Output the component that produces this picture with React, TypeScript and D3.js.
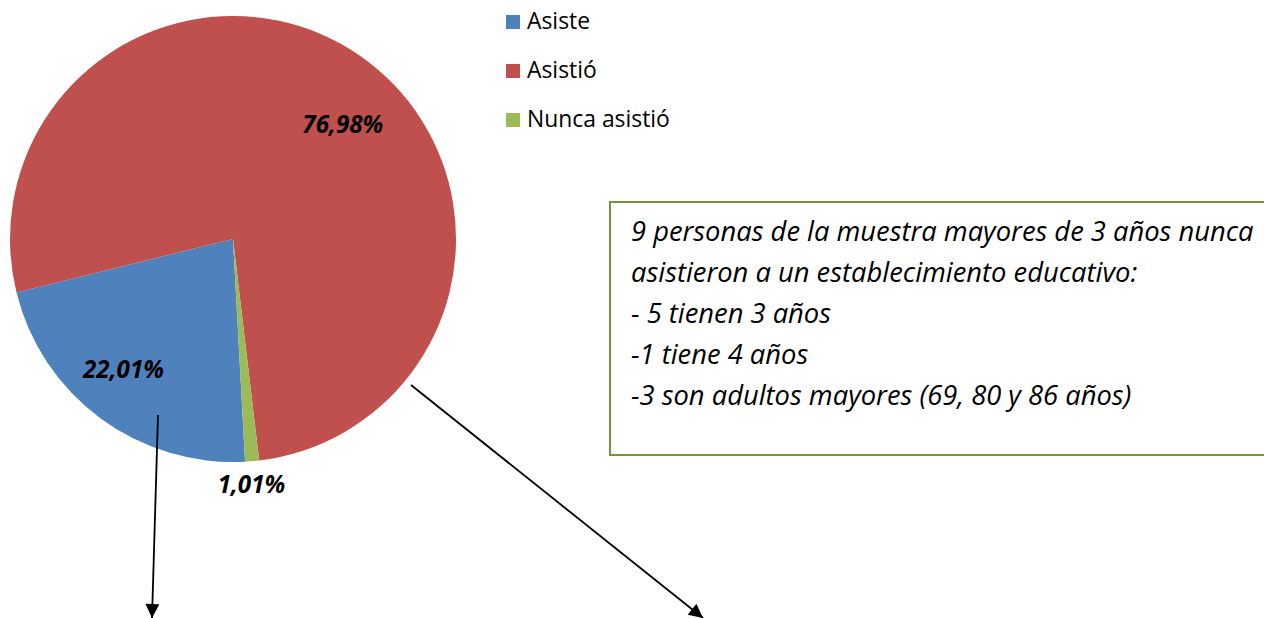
import React, { useRef, useEffect } from 'react';
import * as d3 from 'd3';

const categories = ['Asiste', 'Asistió', 'Nunca asistió'];
const values = [22.01, 76.98, 1.01];
const colors = ['#4F81BD', '#C0504D', '#9BBB59'];
const valueLabels = ['22,01%', '76,98%', '1,01%'];
// where Excel put the data labels (angle in degrees, distance from centre)
const labelPolar = [
  [220.1, 170],
  [43.7, 159],
  [175.7, 246],
];
const noteLines = [
  '9 personas de la muestra mayores de 3 años nunca',
  'asistieron a un establecimiento educativo:',
  '- 5 tienen 3 años',
  '-1 tiene 4 años',
  '-3 son adultos mayores (69, 80 y 86 años)',
];

const W = 1264;
const H = 618;
const FONT = '"Open Sans", Lato, sans-serif';

const rad = (deg: number) => (deg * Math.PI) / 180;

// scale the font of a selection so that its reference text gets the wanted width
const fitFont = (sel: any, refNode: SVGTextElement, target: number, base: number) => {
  const w = refNode.getComputedTextLength();
  if (w > 0) sel.attr('font-size', (base * target) / w);
};

const App = () => {
  const ref = useRef<SVGSVGElement>(null);

  useEffect(() => {
    const svg = d3.select(ref.current);
    svg.selectAll('*').remove();

    const cx = 233, cy = 239, r = 223;
    const start = 176.9;

    const pie = d3.pie<number>()
      .sort(null)
      .startAngle(rad(start))
      .endAngle(rad(start + 360));
    const arc = d3.arc<d3.PieArcDatum<number>>().innerRadius(0).outerRadius(r);

    const g = svg.append('g').attr('transform', `translate(${cx},${cy})`);
    g.selectAll('path')
      .data(pie(values))
      .enter().append('path')
      .attr('d', arc)
      .attr('fill', (d, i) => colors[i])
      .attr('stroke', 'none');

    const lbls = g.selectAll('text.lbl')
      .data(valueLabels)
      .enter().append('text')
      .attr('class', 'lbl')
      .attr('x', (d, i) => labelPolar[i][1] * Math.sin(rad(labelPolar[i][0])))
      .attr('y', (d, i) => -labelPolar[i][1] * Math.cos(rad(labelPolar[i][0])))
      .attr('dy', '0.36em')
      .attr('text-anchor', 'middle')
      .attr('font-family', FONT)
      .attr('font-size', 20)
      .attr('font-weight', 'bold')
      .attr('font-style', 'italic')
      .attr('fill', '#000')
      .text(d => d);
    fitFont(lbls, lbls.nodes()[1] as SVGTextElement, 81, 20);

    // legend
    const legend = svg.append('g').attr('transform', 'translate(506,15)');
    const ly = d3.scalePoint<string>().domain(categories).range([0, 98]);
    const item = legend.selectAll('g')
      .data(categories)
      .enter().append('g')
      .attr('transform', d => `translate(0,${ly(d)})`);
    item.append('rect')
      .attr('width', 14).attr('height', 14)
      .attr('fill', (d, i) => colors[i]);
    const legText = item.append('text')
      .attr('x', 21).attr('y', 14)
      .attr('font-family', FONT)
      .attr('font-size', 20)
      .attr('fill', '#000')
      .text(d => d);
    fitFont(legText, legText.nodes()[2] as SVGTextElement, 143, 20);

    // note box
    svg.append('rect')
      .attr('x', 610).attr('y', 202)
      .attr('width', 700).attr('height', 253)
      .attr('fill', '#fff')
      .attr('stroke', '#77933C')
      .attr('stroke-width', 2);
    const note = svg.append('g').selectAll('text')
      .data(noteLines)
      .enter().append('text')
      .attr('x', 631)
      .attr('y', (d, i) => 241 + i * 41)
      .attr('font-family', FONT)
      .attr('font-size', 22)
      .attr('font-style', 'italic')
      .attr('fill', '#000')
      .text(d => d);
    fitFont(note, note.nodes()[0] as SVGTextElement, 623, 22);

    // arrows
    const defs = svg.append('defs');
    defs.append('marker')
      .attr('id', 'arrow')
      .attr('viewBox', '0 0 10 10')
      .attr('refX', 10).attr('refY', 5)
      .attr('markerWidth', 15).attr('markerHeight', 14)
      .attr('markerUnits', 'userSpaceOnUse')
      .attr('orient', 'auto')
      .append('path')
      .attr('d', 'M0,0 L10,5 L0,10 Z')
      .attr('fill', '#000');
    const arrows = [
      [158, 415, 152, 618],
      [411, 385, 703, 618],
    ];
    svg.selectAll('line.arrow')
      .data(arrows)
      .enter().append('line')
      .attr('class', 'arrow')
      .attr('x1', d => d[0]).attr('y1', d => d[1])
      .attr('x2', d => d[2]).attr('y2', d => d[3])
      .attr('stroke', '#000')
      .attr('stroke-width', 1.8)
      .attr('marker-end', 'url(#arrow)');
  }, []);

  return (
    <svg
      ref={ref}
      width={W}
      height={H}
      style={{ position: 'absolute', left: 0, top: 0, background: '#fff' }}
    />
  );
};

export default App;
